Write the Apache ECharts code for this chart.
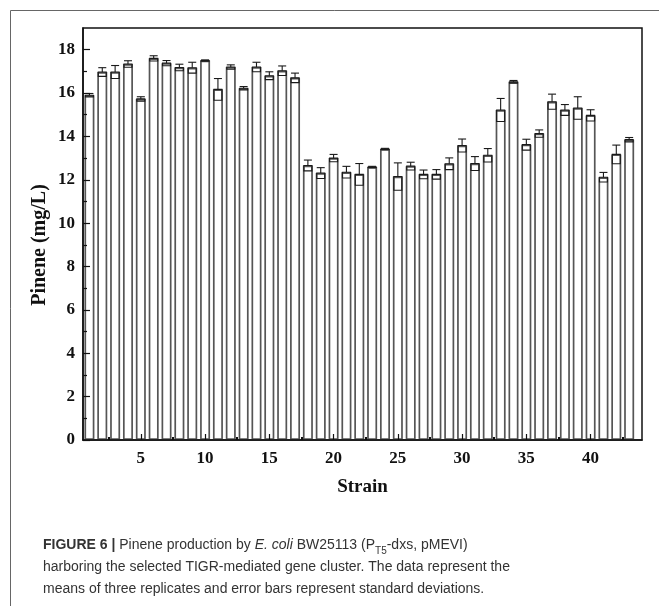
<!DOCTYPE html>
<html>
<head>
<meta charset="utf-8">
<script src="https://cdn.jsdelivr.net/npm/echarts@6.0.0/dist/echarts.min.js"></script>
<style>
html,body{margin:0;padding:0;background:#fff;}
#chart{width:659px;height:606px;}
</style>
</head>
<body>
<div id="chart"></div>
<script>
// ---- data ----
var strains = [1,2,3,4,5,6,7,8,9,10,11,12,13,14,15,16,17,18,19,20,21,22,23,24,25,26,27,28,29,30,31,32,33,34,35,36,37,38,39,40,41,42,43];
var means = [15.9, 16.97, 16.97, 17.34, 15.73, 17.6, 17.38, 17.18, 17.17, 17.5, 16.17, 17.2, 16.22, 17.2, 16.8, 17.03, 16.7,
             12.66, 12.31, 13.0, 12.35, 12.25, 12.59, 13.42, 12.15, 12.63, 12.25, 12.25, 12.74, 13.58, 12.75, 13.13,
             15.22, 16.52, 13.62, 14.13, 15.6, 15.22, 15.31, 14.97, 12.12, 13.17, 13.85];
var errs = [0.08, 0.2, 0.3, 0.15, 0.1, 0.12, 0.12, 0.15, 0.25, 0.03, 0.5, 0.1, 0.08, 0.22, 0.18, 0.22, 0.22,
            0.25, 0.25, 0.17, 0.27, 0.5, 0.03, 0.03, 0.63, 0.18, 0.2, 0.22, 0.27, 0.3, 0.32, 0.31,
            0.53, 0.06, 0.25, 0.17, 0.35, 0.25, 0.52, 0.26, 0.22, 0.43, 0.1];
var xTickLabels = [5, 10, 15, 20, 25, 30, 35, 40];
var xMinorTicks = [2.5, 7.5, 12.5, 17.5, 22.5, 27.5, 32.5, 37.5, 42.5];
var yTickLabels = [0, 2, 4, 6, 8, 10, 12, 14, 16, 18];
var yMinorTicks = [1, 3, 5, 7, 9, 11, 13, 15, 17];

var barData = strains.map(function (s, i) { return [s, means[i]]; });
var errData = strains.map(function (s, i) { return [s, means[i], errs[i]]; });

var serif = '"Liberation Serif", "DejaVu Serif", serif';
var sans = '"Liberation Sans", Arial, sans-serif';
var chart = echarts.init(document.getElementById('chart'), null, {renderer: 'canvas'});

var option = {
  animation: false,
  backgroundColor: '#fff',
  grid: {left: 83, top: 28, right: 17, bottom: 166, show: true, borderColor: '#111', borderWidth: 1.5, backgroundColor: 'transparent'},
  xAxis: [{
    type: 'value', min: 0.5, max: 44, z: 10,
    name: 'Strain', nameLocation: 'middle', nameGap: 38,
    nameTextStyle: {fontFamily: serif, fontWeight: 'bold', fontSize: 19, color: '#111'},
    axisLine: {show: true, onZero: false, lineStyle: {color: '#111', width: 1.5}},
    axisTick: {show: true, inside: true, length: 6, customValues: xTickLabels, lineStyle: {color: '#111', width: 1.2}},
    axisLabel: {customValues: xTickLabels, fontFamily: serif, fontWeight: 'bold', fontSize: 17, color: '#111', margin: 10},
    splitLine: {show: false}
  }, {
    type: 'value', min: 0.5, max: 44, position: 'bottom', z: 10,
    axisLine: {show: false},
    axisTick: {show: true, inside: true, length: 3, customValues: xMinorTicks, lineStyle: {color: '#111', width: 2}},
    axisLabel: {show: false},
    splitLine: {show: false}
  }],
  yAxis: [{
    type: 'value', min: 0, max: 19, z: 10,
    axisLine: {show: true, onZero: false, lineStyle: {color: '#111', width: 1.5}},
    axisTick: {show: true, inside: true, length: 7, customValues: yTickLabels, lineStyle: {color: '#111', width: 1.2}},
    axisLabel: {customValues: yTickLabels, fontFamily: serif, fontWeight: 'bold', fontSize: 17, color: '#111', margin: 8},
    splitLine: {show: false}
  }, {
    type: 'value', min: 0, max: 19, position: 'left', z: 10,
    axisLine: {show: false},
    axisTick: {show: true, inside: true, length: 4, customValues: yMinorTicks, lineStyle: {color: '#111', width: 1.2}},
    axisLabel: {show: false},
    splitLine: {show: false}
  }],
  series: [{
    type: 'bar',
    xAxisIndex: 0, yAxisIndex: 0,
    data: barData,
    barWidth: 10,
    itemStyle: {color: '#fff', borderColor: '#555', borderWidth: 1.7},
    z: 2
  }, {
    type: 'custom',
    xAxisIndex: 0, yAxisIndex: 0,
    data: errData,
    encode: {x: 0, y: 1},
    z: 3,
    renderItem: function (params, api) {
      var x = api.value(0), m = api.value(1), e = api.value(2);
      var pm = api.coord([x, m]);
      var pt = api.coord([x, m + e]);
      var pb = api.coord([x, m - e]);
      var hw = 4;
      var st = {stroke: '#1a1a1a', lineWidth: 1.1, fill: 'none'};
      return {
        type: 'group',
        children: [
          {type: 'line', shape: {x1: pm[0], y1: pm[1], x2: pt[0], y2: pt[1]}, style: st},
          {type: 'line', shape: {x1: pt[0] - hw, y1: pt[1], x2: pt[0] + hw, y2: pt[1]}, style: st},
          {type: 'rect', shape: {x: pm[0] - hw, y: pm[1], width: hw * 2, height: Math.max(pb[1] - pm[1], 0.5)}, style: st}
        ]
      };
    }
  }],
  graphic: [
    {type: 'line', shape: {x1: 10.5, y1: 10.5, x2: 659, y2: 10.5}, style: {stroke: '#666', lineWidth: 1}},
    {type: 'line', shape: {x1: 10.5, y1: 10.5, x2: 10.5, y2: 606}, style: {stroke: '#666', lineWidth: 1}},
    {type: 'text', x: 40, y: 245, rotation: Math.PI / 2,
     style: {text: 'Pinene (mg/L)', font: 'bold 20px ' + serif, fill: '#111', align: 'center', verticalAlign: 'middle'}},
    {type: 'text', left: 43, top: 534,
     style: {
       text: '{b|FIGURE 6 |} Pinene production by {i|E. coli} BW25113 (P{s|T5}-dxs, pMEVI)\nharboring the selected TIGR-mediated gene cluster. The data represent the\nmeans of three replicates and error bars represent standard deviations.',
       font: '14px ' + sans,
       fill: '#333',
       lineHeight: 22,
       rich: {
         b: {fontWeight: 'bold', fontFamily: sans, fontSize: 14, lineHeight: 22, fill: '#333'},
         i: {fontStyle: 'italic', fontFamily: sans, fontSize: 14, lineHeight: 22, fill: '#333'},
         s: {fontFamily: sans, fontSize: 10, lineHeight: 10, verticalAlign: 'bottom', fill: '#333'}
       }
     }}
  ]
};
chart.setOption(option);
</script>
</body>
</html>
